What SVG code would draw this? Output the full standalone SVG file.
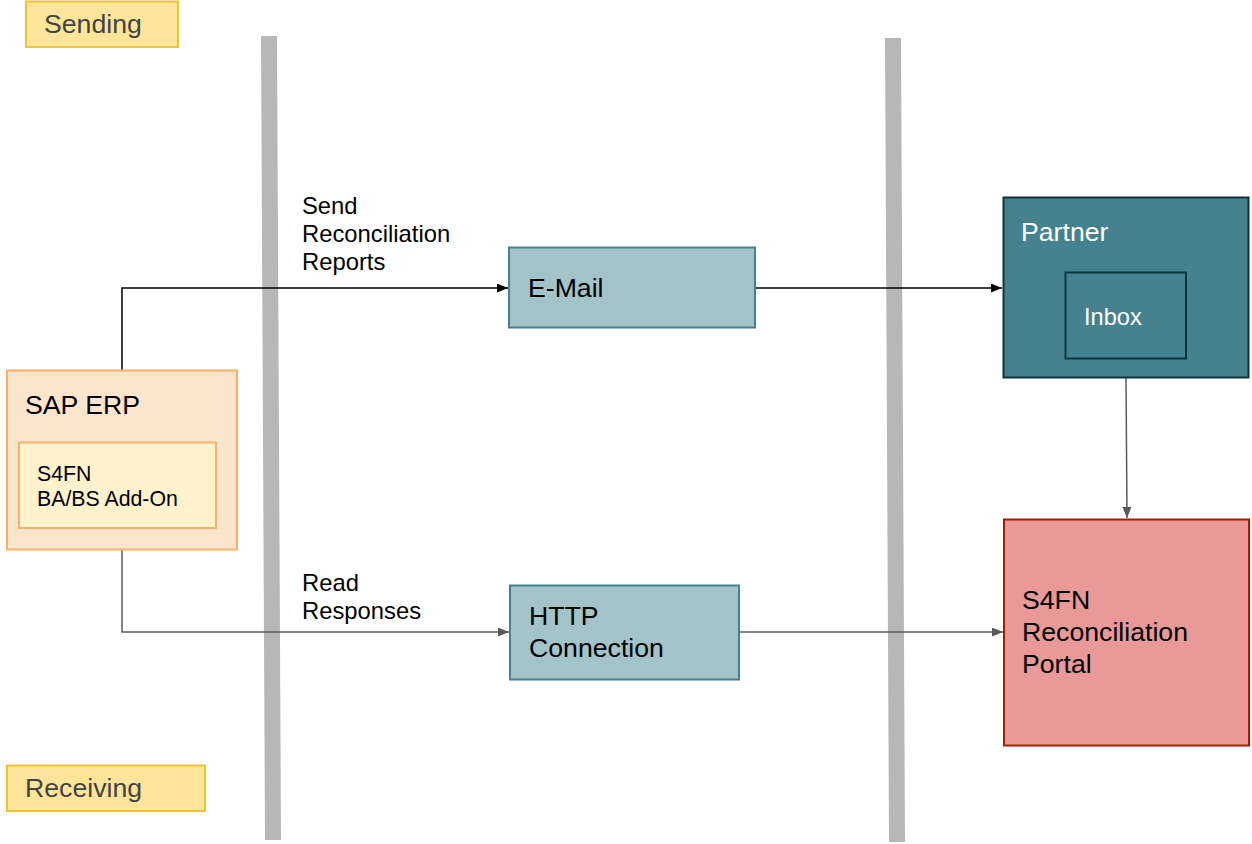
<svg xmlns="http://www.w3.org/2000/svg" width="1252" height="844" viewBox="0 0 1252 844">
<style>
text{font-family:Arial,"Liberation Sans",Helvetica,sans-serif;}
.lbl{font-size:23.8px;fill:#000;}
.t24{font-size:26.67px;}
.lane{fill:#ffe599;stroke:#f1c232;stroke-width:2;}
.teal{fill:#a2c4c9;stroke:#45818e;stroke-width:2;}
.bk{fill:none;stroke:#000;stroke-width:1.5;}
.gr{fill:none;stroke:#595959;stroke-width:1.5;}
</style>
<defs>
<marker id="ab" viewBox="0 0 10 10" refX="10" refY="5" markerWidth="11" markerHeight="9" markerUnits="userSpaceOnUse" orient="auto" preserveAspectRatio="none"><path d="M0,0 L10,5 L0,10 z" fill="#000"/></marker>
<marker id="ag" viewBox="0 0 10 10" refX="10" refY="5" markerWidth="11" markerHeight="9" markerUnits="userSpaceOnUse" orient="auto" preserveAspectRatio="none"><path d="M0,0 L10,5 L0,10 z" fill="#595959"/></marker>
</defs>
<rect width="1252" height="844" fill="#fff"/>
<g id="bars">
<polygon points="261,36 277,36 281,840 265,840" fill="#b7b7b7"/>
<polygon points="885,38 901,38 905,842 889,842" fill="#b7b7b7"/>
</g>
<g id="connectors">
<polyline class="bk" points="122,370 122,288 508,288" marker-end="url(#ab)"/>
<line class="bk" x1="755" y1="288" x2="1002" y2="288" marker-end="url(#ab)"/>
<polyline class="gr" points="122,550 122,632 509,632" marker-end="url(#ag)"/>
<line class="gr" x1="739" y1="632" x2="1003" y2="632" marker-end="url(#ag)"/>
<line class="gr" x1="1126" y1="377" x2="1127" y2="518" marker-end="url(#ag)"/>
<text class="lbl" x="302" y="214">Send</text>
<text class="lbl" x="302" y="242">Reconciliation</text>
<text class="lbl" x="302" y="270">Reports</text>
<text class="lbl" x="302" y="591">Read</text>
<text class="lbl" x="302" y="619">Responses</text>
</g>
<g id="sending">
<rect class="lane" x="26" y="1.5" width="152" height="45.5"/>
<text class="t24" x="44" y="33" fill="#434343">Sending</text>
</g>
<g id="receiving">
<rect class="lane" x="7" y="765.5" width="198" height="45.5"/>
<text class="t24" x="25" y="797" fill="#434343">Receiving</text>
</g>
<g id="sap-erp">
<rect x="7" y="370.5" width="230" height="179" fill="#fce5cd" stroke="#f6b26b" stroke-width="2"/>
<text class="t24" x="25" y="414">SAP ERP</text>
<rect x="19" y="442.5" width="197" height="85.5" fill="#fff2cc" stroke="#f6b26b" stroke-width="2"/>
<text x="37" y="481" font-size="21.3">S4FN</text>
<text x="37" y="506" font-size="21.3">BA/BS Add-On</text>
</g>
<g id="email">
<rect class="teal" x="509" y="247.5" width="246" height="80"/>
<text class="t24" x="528" y="297">E-Mail</text>
</g>
<g id="http">
<rect class="teal" x="510" y="585.5" width="229" height="94"/>
<text class="t24" x="529" y="625">HTTP</text>
<text class="t24" x="529" y="657">Connection</text>
</g>
<g id="partner">
<rect x="1003.5" y="197.5" width="245" height="180" fill="#45818e" stroke="#0c343d" stroke-width="2"/>
<text class="t24" x="1021" y="241" fill="#fff">Partner</text>
<rect x="1065.5" y="272.5" width="120.5" height="86" fill="#45818e" stroke="#0c343d" stroke-width="2"/>
<text x="1084" y="325" font-size="23.6" fill="#fff">Inbox</text>
</g>
<g id="portal">
<rect x="1004" y="519.5" width="245" height="226" fill="#ea9999" stroke="#a61c00" stroke-width="2"/>
<text class="t24" x="1022" y="609">S4FN</text>
<text class="t24" x="1022" y="641">Reconciliation</text>
<text class="t24" x="1022" y="673">Portal</text>
</g>
</svg>
